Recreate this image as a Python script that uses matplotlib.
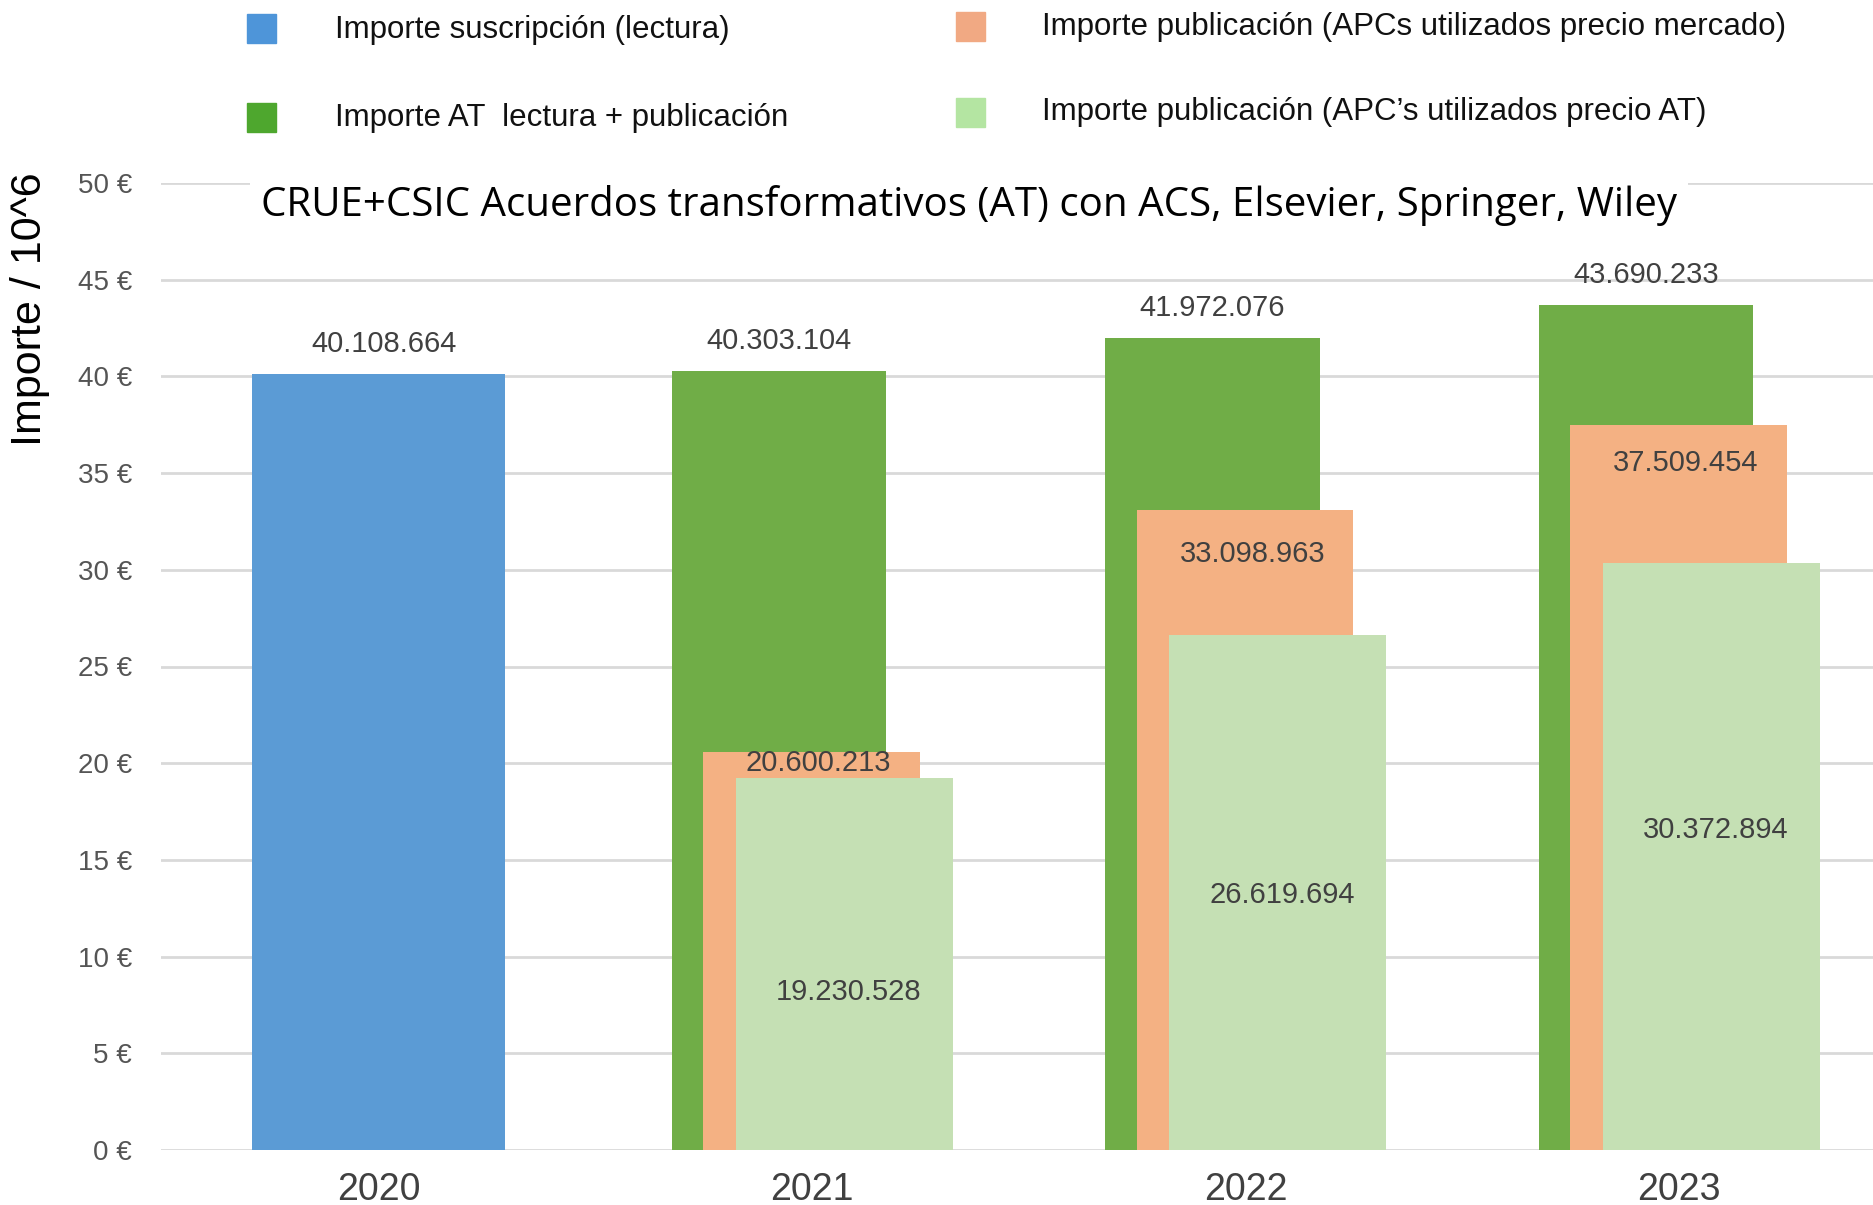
import matplotlib.pyplot as plt
from matplotlib.patches import Rectangle

years = ["2020", "2021", "2022", "2023"]
suscripcion = [40.108664, None, None, None]
at_total = [None, 40.303104, 41.972076, 43.690233]
apc_mercado = [None, 20.600213, 33.098963, 37.509454]
apc_at = [None, 19.230528, 26.619694, 30.372894]

labels_susc = ["40.108.664", "", "", ""]
labels_at = ["", "40.303.104", "41.972.076", "43.690.233"]
labels_mercado = ["", "20.600.213", "33.098.963", "37.509.454"]
labels_apc_at = ["", "19.230.528", "26.619.694", "30.372.894"]

legend_names = ["Importe suscripción (lectura)",
                "Importe AT  lectura + publicación",
                "Importe publicación (APCs utilizados precio mercado)",
                "Importe publicación (APC\u2019s utilizados precio AT)"]

# colours
c_blue = "#5B9BD5"
c_green = "#70AD47"
c_orange = "#F4B183"
c_light = "#C5E0B4"
lab_col = "#404040"

W, H = 1874, 1205
fig = plt.figure(figsize=(W / 100, H / 100), dpi=100)
ax = fig.add_axes([161 / W, (H - 1150) / H, (W - 161) / W, (1150 - 183) / H])

num_font = dict(family="Liberation Sans", fontsize=21, color=lab_col)

for i in range(len(years)):
    if suscripcion[i] is not None:
        ax.bar(i, suscripcion[i], width=0.585, color=c_blue, zorder=2)
        ax.text(i + 0.012, suscripcion[i] + 1.55, labels_susc[i], ha="center", va="center", **num_font)
    if at_total[i] is not None:
        ax.bar(i - 0.077, at_total[i], width=0.495, color=c_green, zorder=2)
        ax.text(i - 0.077, at_total[i] + 1.55, labels_at[i], ha="center", va="center", **num_font)
    if apc_mercado[i] is not None:
        ax.bar(i - 0.002, apc_mercado[i], width=0.5, color=c_orange, zorder=3)
    if apc_at[i] is not None:
        ax.bar(i + 0.074, apc_at[i], width=0.5, color=c_light, zorder=4)

# data labels inside the smaller bars
merc_off = [0, -0.6, -2.3, -2.0]
at_off = [0, -1.45, -0.1, 1.37]
for i in range(1, 4):
    ax.text(i + 0.015, apc_mercado[i] + merc_off[i], labels_mercado[i], ha="center", va="center",
            zorder=5, **num_font)
    ax.text(i + 0.085, apc_at[i] / 2 + at_off[i], labels_apc_at[i], ha="center", va="center",
            zorder=5, **num_font)

ax.set_xlim(-0.502, 3.449)
ax.set_ylim(0, 50)
ax.set_yticks(range(0, 51, 5))
ax.set_yticklabels([f"{v} €" for v in range(0, 51, 5)], family="Liberation Sans",
                   fontsize=20, color="#555555")
ax.set_xticks(range(len(years)))
ax.set_xticklabels(years, family="Liberation Sans", fontsize=27, color=lab_col)
ax.tick_params(axis="y", length=0, pad=21)
ax.tick_params(axis="x", length=0, pad=16)
ax.grid(axis="y", color="#D9D9D9", linewidth=2, zorder=0)
ax.set_axisbelow(True)
for s in ax.spines.values():
    s.set_visible(False)

# title with white box over the top gridline
fig.text(969 / W, 1 - 205 / H, "CRUE+CSIC Acuerdos transformativos (AT) con ACS, Elsevier, Springer, Wiley",
         ha="center", va="center", fontsize=29, family="Open Sans", color="black",
         bbox=dict(facecolor="white", edgecolor="none", pad=8))

# y label
fig.text(30 / W, 1 - 309 / H, "Importe / 10^6", rotation=90, ha="center", va="center",
         fontsize=31, family="Liberation Sans", color="black")

# legend drawn by hand
leg_sq = [(247, 14, "#4E95D9"), (247, 103, "#4EA72E"), (956, 12, "#F1A983"), (956, 98, "#B4E5A2")]
leg_txt = [(335, 30), (335, 118), (1042, 27), (1042, 112)]
for (x, y, c), (tx, ty), name in zip(leg_sq, leg_txt, legend_names):
    fig.add_artist(Rectangle((x / W, 1 - (y + 29) / H), 29 / W, 29 / H,
                             transform=fig.transFigure, color=c))
    fig.text(tx / W, 1 - ty / H, name, ha="left", va="center", fontsize=22.5,
             family="Liberation Sans", color="#111111")

fig.savefig("out.png", dpi=100)
